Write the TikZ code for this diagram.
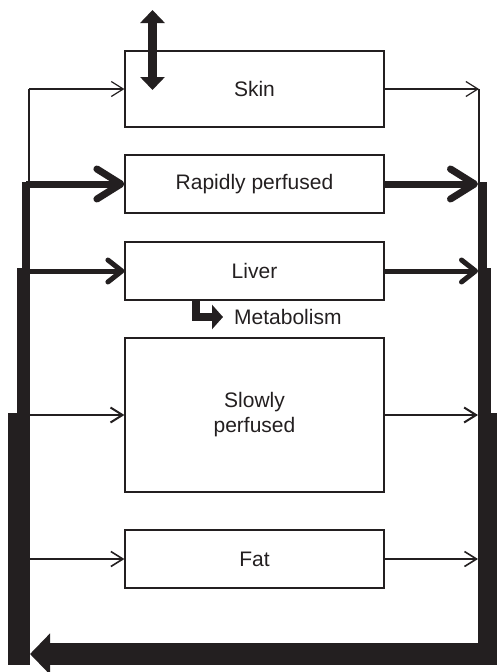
\documentclass[tikz,border=0pt]{standalone}
\usepackage{fontspec}
\setmainfont{Liberation Sans}
\usepackage{tikz}
\usetikzlibrary{arrows.meta}
\definecolor{ink}{HTML}{231F20}

\begin{document}
\begin{tikzpicture}[x = 1pt, y = -1pt, color = ink, font = \fontsize{21}{25}\selectfont,
  organ/.style = {draw = ink, line width = 1.2pt, minimum width = 259pt, inner sep = 0pt, align = center},
  flowthin/.style = {line width = 1.2pt, -{Straight Barb[length = 12pt, width = 15pt]}},
  flowmid/.style = {line width = 5pt, -{Straight Barb[length = 14pt, width = 22pt, round]}},
  flowbig/.style = {line width = 7pt, -{Straight Barb[length = 24pt, width = 30pt, round]}},
  twoway/.style = {line width = 9pt, {Triangle[length = 13pt, width = 24pt]}-{Triangle[length = 13pt, width = 24pt]}}]
  \useasboundingbox (0, 0) rectangle (497, 672);
  \node[organ, minimum height = 76pt] at (254.5, 89) (skin) {Skin};
  \node[organ, minimum height = 58pt] at (254.5, 184) (rapid) {Rapidly perfused};
  \node[organ, minimum height = 58pt] at (254.5, 271) (liver) {Liver};
  \node[organ, minimum height = 154pt] at (254.5, 415) (slow) {Slowly\\perfused};
  \node[organ, minimum height = 58pt] at (254.5, 559) (fat) {Fat};
  \node[anchor = west, inner xsep = 11pt, inner ysep = 0pt] at (223, 317) (metab) {Metabolism};
  % arterial side
  \coordinate (ltop) at (29, 89);
  \coordinate (lr) at (26, 184);
  \coordinate (ll) at (24, 271);
  \coordinate (ls) at (24, 415);
  \coordinate (lf) at (24, 559);
  \draw[line width = 1.2pt] (ltop) -- (29, 183);
  \fill (21.7, 182) rectangle (30, 268);
  \fill (17, 268) rectangle (30, 413);
  \fill (8, 413) rectangle (30, 665);
  \draw[flowthin] (ltop) -- (skin.west);
  \draw[flowbig] (lr) -- (rapid.west);
  \draw[flowmid] (ll) -- (liver.west);
  \draw[flowthin, line width = 2pt] (ls) -- (slow.west);
  \draw[flowthin, line width = 1.6pt] (lf) -- (fat.west);
  % venous side
  \coordinate (rtop) at (479, 89);
  \coordinate (rr) at (478, 184);
  \coordinate (rl) at (478, 271);
  \coordinate (rs) at (478, 415);
  \coordinate (rf) at (478, 559);
  \draw[line width = 1.2pt] (rtop) -- (479, 183);
  \fill (478, 182) rectangle (487, 268);
  \fill (478, 268) rectangle (491, 413);
  \fill (478, 413) rectangle (497, 665);
  \draw[flowthin] (skin.east) -- (rtop);
  \draw[flowbig] (rapid.east) -- (rr);
  \draw[flowmid] (liver.east) -- (rl);
  \draw[flowthin, line width = 2pt] (slow.east) -- (rs);
  \draw[flowthin, line width = 1.6pt] (fat.east) -- (rf);
  % return to the arterial side
  \coordinate (back) at (497, 654);
  \coordinate (front) at (30, 654);
  \draw[line width = 22pt, -{Triangle[length = 20pt, width = 40pt]}] (back) -- (front);
  % exchange through the skin and metabolism
  \coordinate (air) at (152.5, 10);
  \coordinate (dermis) at (152.5, 90);
  \draw[twoway] (air) -- (dermis);
  \coordinate (hep) at (196, 300);
  \draw[line width = 8pt, -{Triangle[length = 11pt, width = 24pt]}] (hep) |- (metab.west);
\end{tikzpicture}
\end{document}
